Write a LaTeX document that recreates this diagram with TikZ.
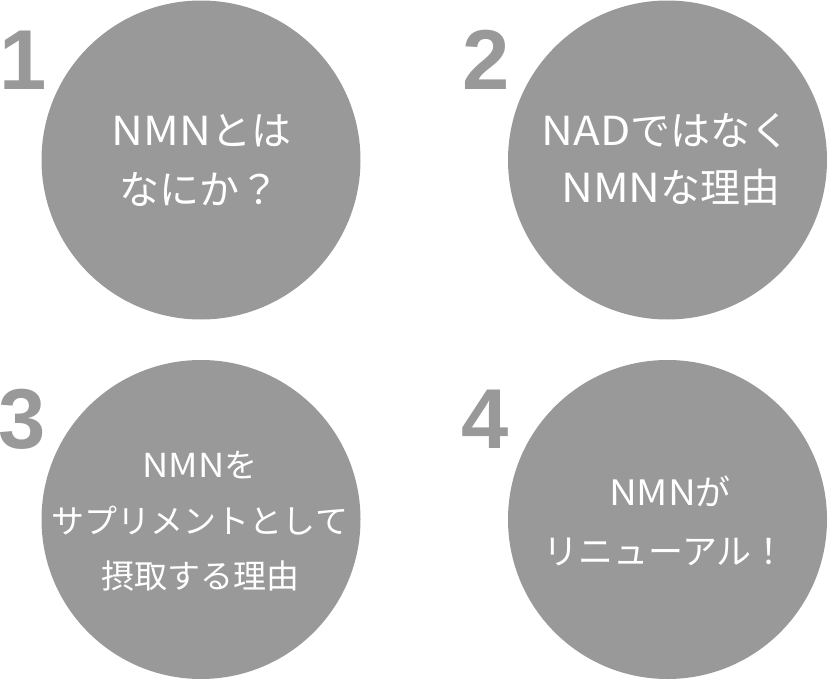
\documentclass[tikz,border=0pt]{standalone}
\usepackage{fontspec}
\newfontfamily\jp{Noto Sans CJK JP}
\newfontfamily\jplat{Noto Sans CJK JP}[FakeStretch=1.1]
\newfontfamily\numfont{Liberation Sans}
\definecolor{circgray}{RGB}{153,153,153}
\definecolor{numgray}{RGB}{153,153,153}
\begin{document}
\begin{tikzpicture}[x=1pt,y=-1pt,
  bubble/.style={circle,fill=circgray,draw=none,minimum size=319pt,inner sep=0pt},
  numlbl/.style={anchor=base,text=numgray,inner sep=0pt,font=\numfont\bfseries\fontsize{85}{85}\selectfont},
  txtA/.style={anchor=base,text=white,inner sep=0pt,font=\jp\fontsize{40}{40}\selectfont},
  txtC/.style={anchor=base,text=white,inner sep=0pt,font=\jp\fontsize{33}{33}\selectfont},
  txtD/.style={anchor=base,text=white,inner sep=0pt,font=\jp\fontsize{35}{35}\selectfont}]
\useasboundingbox (0,0) rectangle (828,680);
% circles
\node[bubble] (c1) at (201,160) {};
\node[bubble] (c2) at (667.5,160) {};
\node[bubble] (c3) at (201,519.5) {};
\node[bubble] (c4) at (667.5,519.5) {};
% numbers
\node[numlbl] (n1) at (23,89) {1};
\node[numlbl] (n2) at (486,89) {2};
\node[numlbl] (n3) at (22,448) {3};
\node[numlbl] (n4) at (485,448) {4};
% texts
\node[txtA] (t1a) at (201.5,145) {{\jplat NMN}とは};
\node[txtA] (t1b) at (199,204) {なにか？};
\node[txtA] (t2a) at (666,145) {{\jplat NAD}ではなく};
\node[txtA] (t2b) at (671,202) {{\jplat NMN}な理由};
\node[txtC] (t3a) at (200,477) {{\jplat NMN}を};
\node[txtC] (t3b) at (200,533) {サプリメントとして};
\node[txtC] (t3c) at (200,588) {摂取する理由};
\node[txtD] (t4a) at (670,505) {{\jplat NMN}が};
\node[txtD] (t4b) at (665,564) {リニューアル！};
\end{tikzpicture}
\end{document}
